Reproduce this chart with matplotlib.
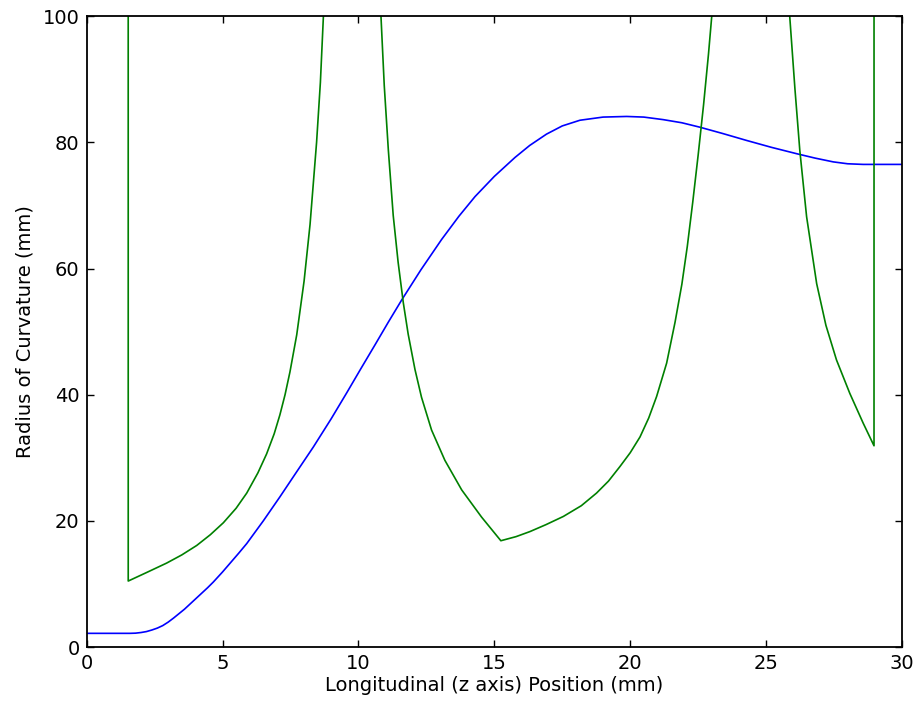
import numpy as np
import matplotlib
matplotlib.use("Agg")
import matplotlib.pyplot as plt

# Beam radius along the axis (blue)
z_radius = [0.0, 1.59, 1.8, 2.0, 2.2, 2.4, 2.6, 2.8, 3.0, 3.2, 3.4, 3.6, 3.8,
            4.0, 4.2, 4.45, 4.66, 5.0, 5.3, 5.6, 5.89, 6.5, 7.11, 7.7, 8.34,
            9.0, 9.57, 10.1, 10.61, 11.1, 11.59, 12.3, 13.06, 13.7, 14.29,
            15.0, 15.76, 16.3, 16.92, 17.5, 18.15, 19.0, 19.87, 20.5, 21.21,
            21.9, 22.56, 23.4, 24.28, 25.2, 26.12, 26.8, 27.47, 28.0, 28.57,
            30.0]
radius = [2.17, 2.17, 2.2, 2.3, 2.45, 2.7, 3.0, 3.4, 3.95, 4.6, 5.3, 6.0, 6.8,
          7.6, 8.4, 9.4, 10.3, 11.9, 13.4, 14.9, 16.4, 20.0, 23.8, 27.6, 31.7,
          36.2, 40.3, 44.2, 47.9, 51.5, 55.0, 59.8, 64.6, 68.3, 71.4,
          74.6, 77.6, 79.5, 81.3, 82.6, 83.5, 84.0, 84.1, 84.0, 83.6,
          83.1, 82.4, 81.4, 80.3, 79.2, 78.2, 77.5, 76.9, 76.6, 76.5,
          76.5]

# Radius of curvature (green); very large values mark the near-flat regions
z_curv = [1.52, 1.53, 2.2, 2.94, 3.5, 4.05, 4.55, 5.03, 5.5, 5.89, 6.3, 6.62,
          6.9, 7.11, 7.3, 7.48, 7.73, 8.0, 8.22, 8.46, 8.6, 8.71, 8.75,
          10.8, 10.83, 10.95, 11.10, 11.28, 11.46, 11.65, 11.83, 12.08, 12.32,
          12.69, 13.18, 13.80, 14.53, 15.24, 15.8, 16.31, 16.9, 17.54, 18.2,
          18.76, 19.2, 19.62, 20.0, 20.36, 20.68, 20.97, 21.34, 21.65, 21.9,
          22.1, 22.3, 22.5, 22.7, 22.88, 23.0, 23.05,
          25.85, 25.87, 26.06, 26.24, 26.49, 26.86, 27.2, 27.59, 28.08,
          28.57, 28.97, 28.98]
curv = [1000, 10.46, 11.8, 13.3, 14.6, 16.1, 17.8, 19.7, 22.0, 24.4, 27.6, 30.6,
        33.8, 36.8, 40.0, 43.6, 49.5, 58.0, 67.0, 80.0, 89.5, 99.9, 1000,
        1000, 99.9, 89.0, 78.8, 68.4, 61.0, 54.6, 49.6, 44.0, 39.6,
        34.4, 29.6, 24.9, 20.6, 16.85, 17.5, 18.3, 19.4, 20.7, 22.4,
        24.4, 26.3, 28.6, 30.8, 33.3, 36.3, 39.7, 45.0, 51.5, 57.5,
        63.5, 70.5, 78.0, 86.0, 94.0, 100.0, 1000,
        1000, 99.9, 88.5, 78.7, 68.2, 57.6, 51.0, 45.5, 40.2,
        35.5, 31.9, 1000]

plt.rcParams['font.family'] = ['DejaVu Sans']
plt.rcParams['font.size'] = 14

fig = plt.figure(figsize=(9.15, 7.02), dpi=100)
ax = fig.add_axes([0.0947, 0.0783, 0.8911, 0.8987])

ax.plot(z_radius, radius, color='b', lw=1.2)
ax.plot(z_curv, curv, color='g', lw=1.2)

ax.set_xlim(0, 30)
ax.set_ylim(0, 100)
ax.set_xticks(np.arange(0, 31, 5))
ax.set_yticks(np.arange(0, 101, 20))
ax.tick_params(direction='in', length=5, width=1, top=True, right=True,
               labelsize=14, pad=5)
for s in ax.spines.values():
    s.set_linewidth(1.3)

ax.set_xlabel('Longitudinal (z axis) Position (mm)', fontsize=14, labelpad=2)
ax.set_ylabel('Radius of Curvature (mm)', fontsize=14, labelpad=6)

fig.savefig('out.png', dpi=100, facecolor='white')
